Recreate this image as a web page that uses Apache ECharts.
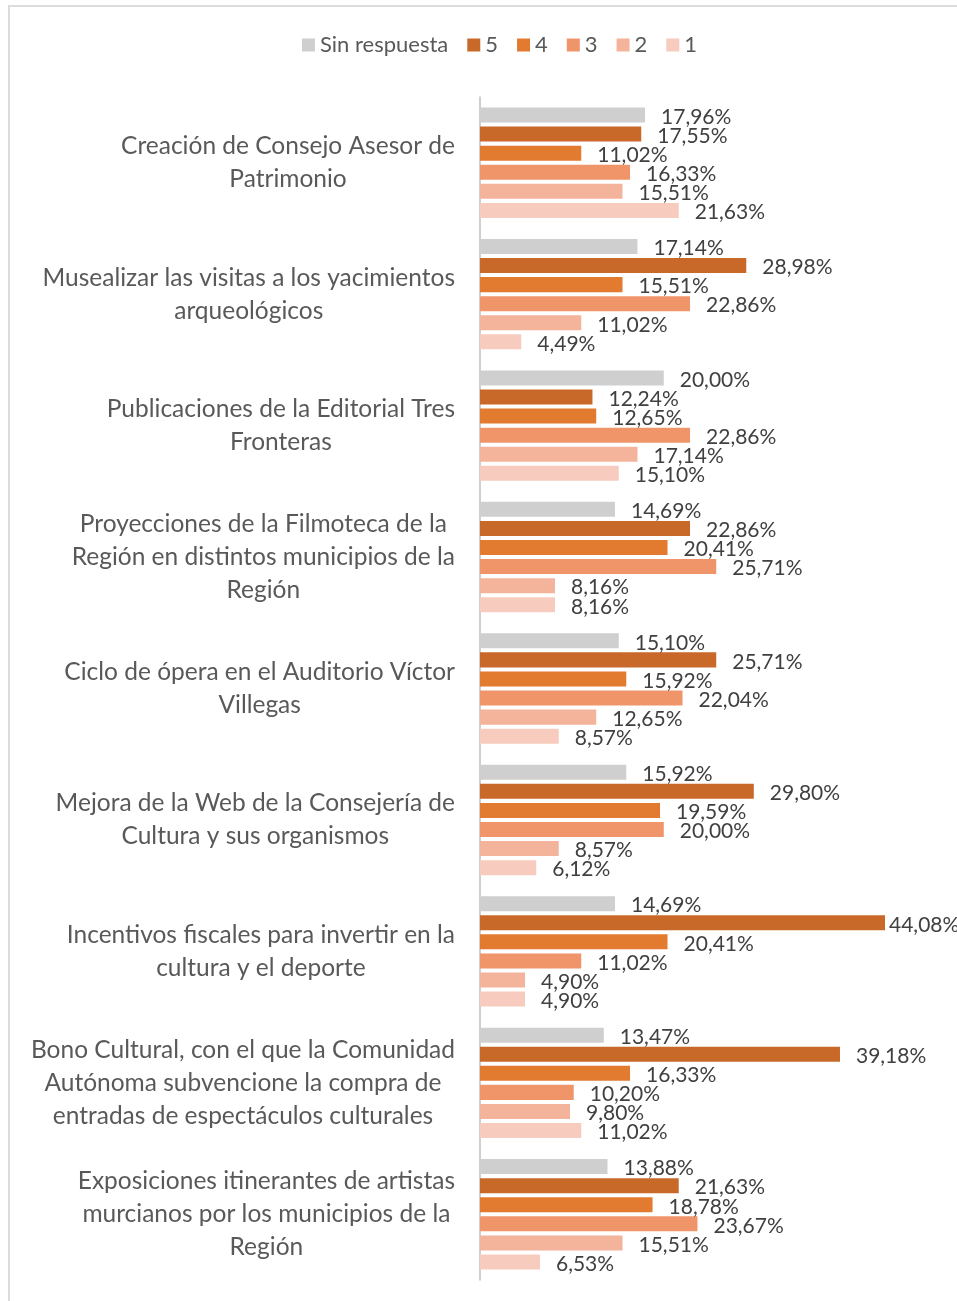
<!DOCTYPE html>
<html>
<head>
<meta charset="utf-8">
<script src="https://cdn.jsdelivr.net/npm/echarts@6/dist/echarts.min.js"></script>
<style>
  html, body { margin: 0; padding: 0; background: #fff; }
  #charts { width: 957px; height: 1301px; }
</style>
</head>
<body>
<div id="charts"></div>
<script>
const categories = [
  'Creación de Consejo Asesor de\nPatrimonio',
  'Musealizar las visitas a los yacimientos\narqueológicos',
  'Publicaciones de la Editorial Tres\nFronteras',
  'Proyecciones de la Filmoteca de la\nRegión en distintos municipios de la\nRegión',
  'Ciclo de ópera en el Auditorio Víctor\nVillegas',
  'Mejora de la Web de la Consejería de\nCultura y sus organismos',
  'Incentivos fiscales para invertir en la\ncultura y el deporte',
  'Bono Cultural, con el que la Comunidad\nAutónoma subvencione la compra de\nentradas de espectáculos culturales',
  'Exposiciones itinerantes de artistas\nmurcianos por los municipios de la\nRegión'
]
const seriesNames = ['Sin respuesta', '5', '4', '3', '2', '1']
const sinRespuesta = [17.96, 17.14, 20.0, 14.69, 15.1, 15.92, 14.69, 13.47, 13.88]
const val5 = [17.55, 28.98, 12.24, 22.86, 25.71, 29.8, 44.08, 39.18, 21.63]
const val4 = [11.02, 15.51, 12.65, 20.41, 15.92, 19.59, 20.41, 16.33, 18.78]
const val3 = [16.33, 22.86, 22.86, 25.71, 22.04, 20.0, 11.02, 10.2, 23.67]
const val2 = [15.51, 11.02, 17.14, 8.16, 12.65, 8.57, 4.9, 9.8, 15.51]
const val1 = [21.63, 4.49, 15.1, 8.16, 8.57, 6.12, 4.9, 11.02, 6.53]
const colors = ['#cfcfcf', '#c8692a', '#e27a30', '#f0946a', '#f4b39b', '#f7cbbe']

const font = 'Lato, "Open Sans", sans-serif'
const values = [sinRespuesta, val5, val4, val3, val2, val1]
const charts = echarts.init(document.getElementById('charts'))

const series = values.map((vals, si) => ({
  name: seriesNames[si],
  type: 'bar',
  barGap: '27%',
  barCategoryGap: '16%',
  itemStyle: { color: colors[si] },
  label: {
    show: true,
    position: 'right',
    distance: 16,
    offset: [0, 2],
    color: '#404040',
    fontFamily: font,
    fontSize: 21,
    formatter: p => p.value.toFixed(2).replace('.', ',') + '%'
  },
  // the longest bar gets its label pulled in close, as in the source
  data: vals.map(v => (v > 42 ? { value: v, label: { distance: 4 } } : v))
}))

const option = {
  animation: false,
  color: colors,
  legend: {
    top: 29,
    left: 297,
    itemWidth: 13,
    itemHeight: 13,
    itemGap: 19,
    icon: 'rect',
    textStyle: { color: '#595959', fontFamily: font, fontSize: 22 },
    data: seriesNames
  },
  grid: { left: 480, top: 97, width: 459.4, bottom: 21, containLabel: false },
  xAxis: {
    type: 'value',
    min: 0,
    max: 50,
    show: false
  },
  yAxis: {
    type: 'category',
    inverse: true,
    data: categories,
    axisLine: { show: true, lineStyle: { color: '#bfbfbf', width: 1.5 } },
    axisTick: { show: false },
    axisLabel: {
      margin: 25,
      formatter: v => v.split('\n').map(l => '{c|' + l + '}').join('\n'),
      rich: {
        c: {
          align: 'center',
          color: '#595959',
          fontFamily: font,
          fontSize: 24.5,
          lineHeight: 33
        }
      }
    }
  },
  graphic: [
    {
      type: 'rect',
      shape: { x: 9, y: 6, width: 1100, height: 1400 },
      style: { fill: 'none', stroke: '#dcdcdc', lineWidth: 2 },
      silent: true
    }
  ],
  series
}
charts.setOption(option)
</script>
</body>
</html>
